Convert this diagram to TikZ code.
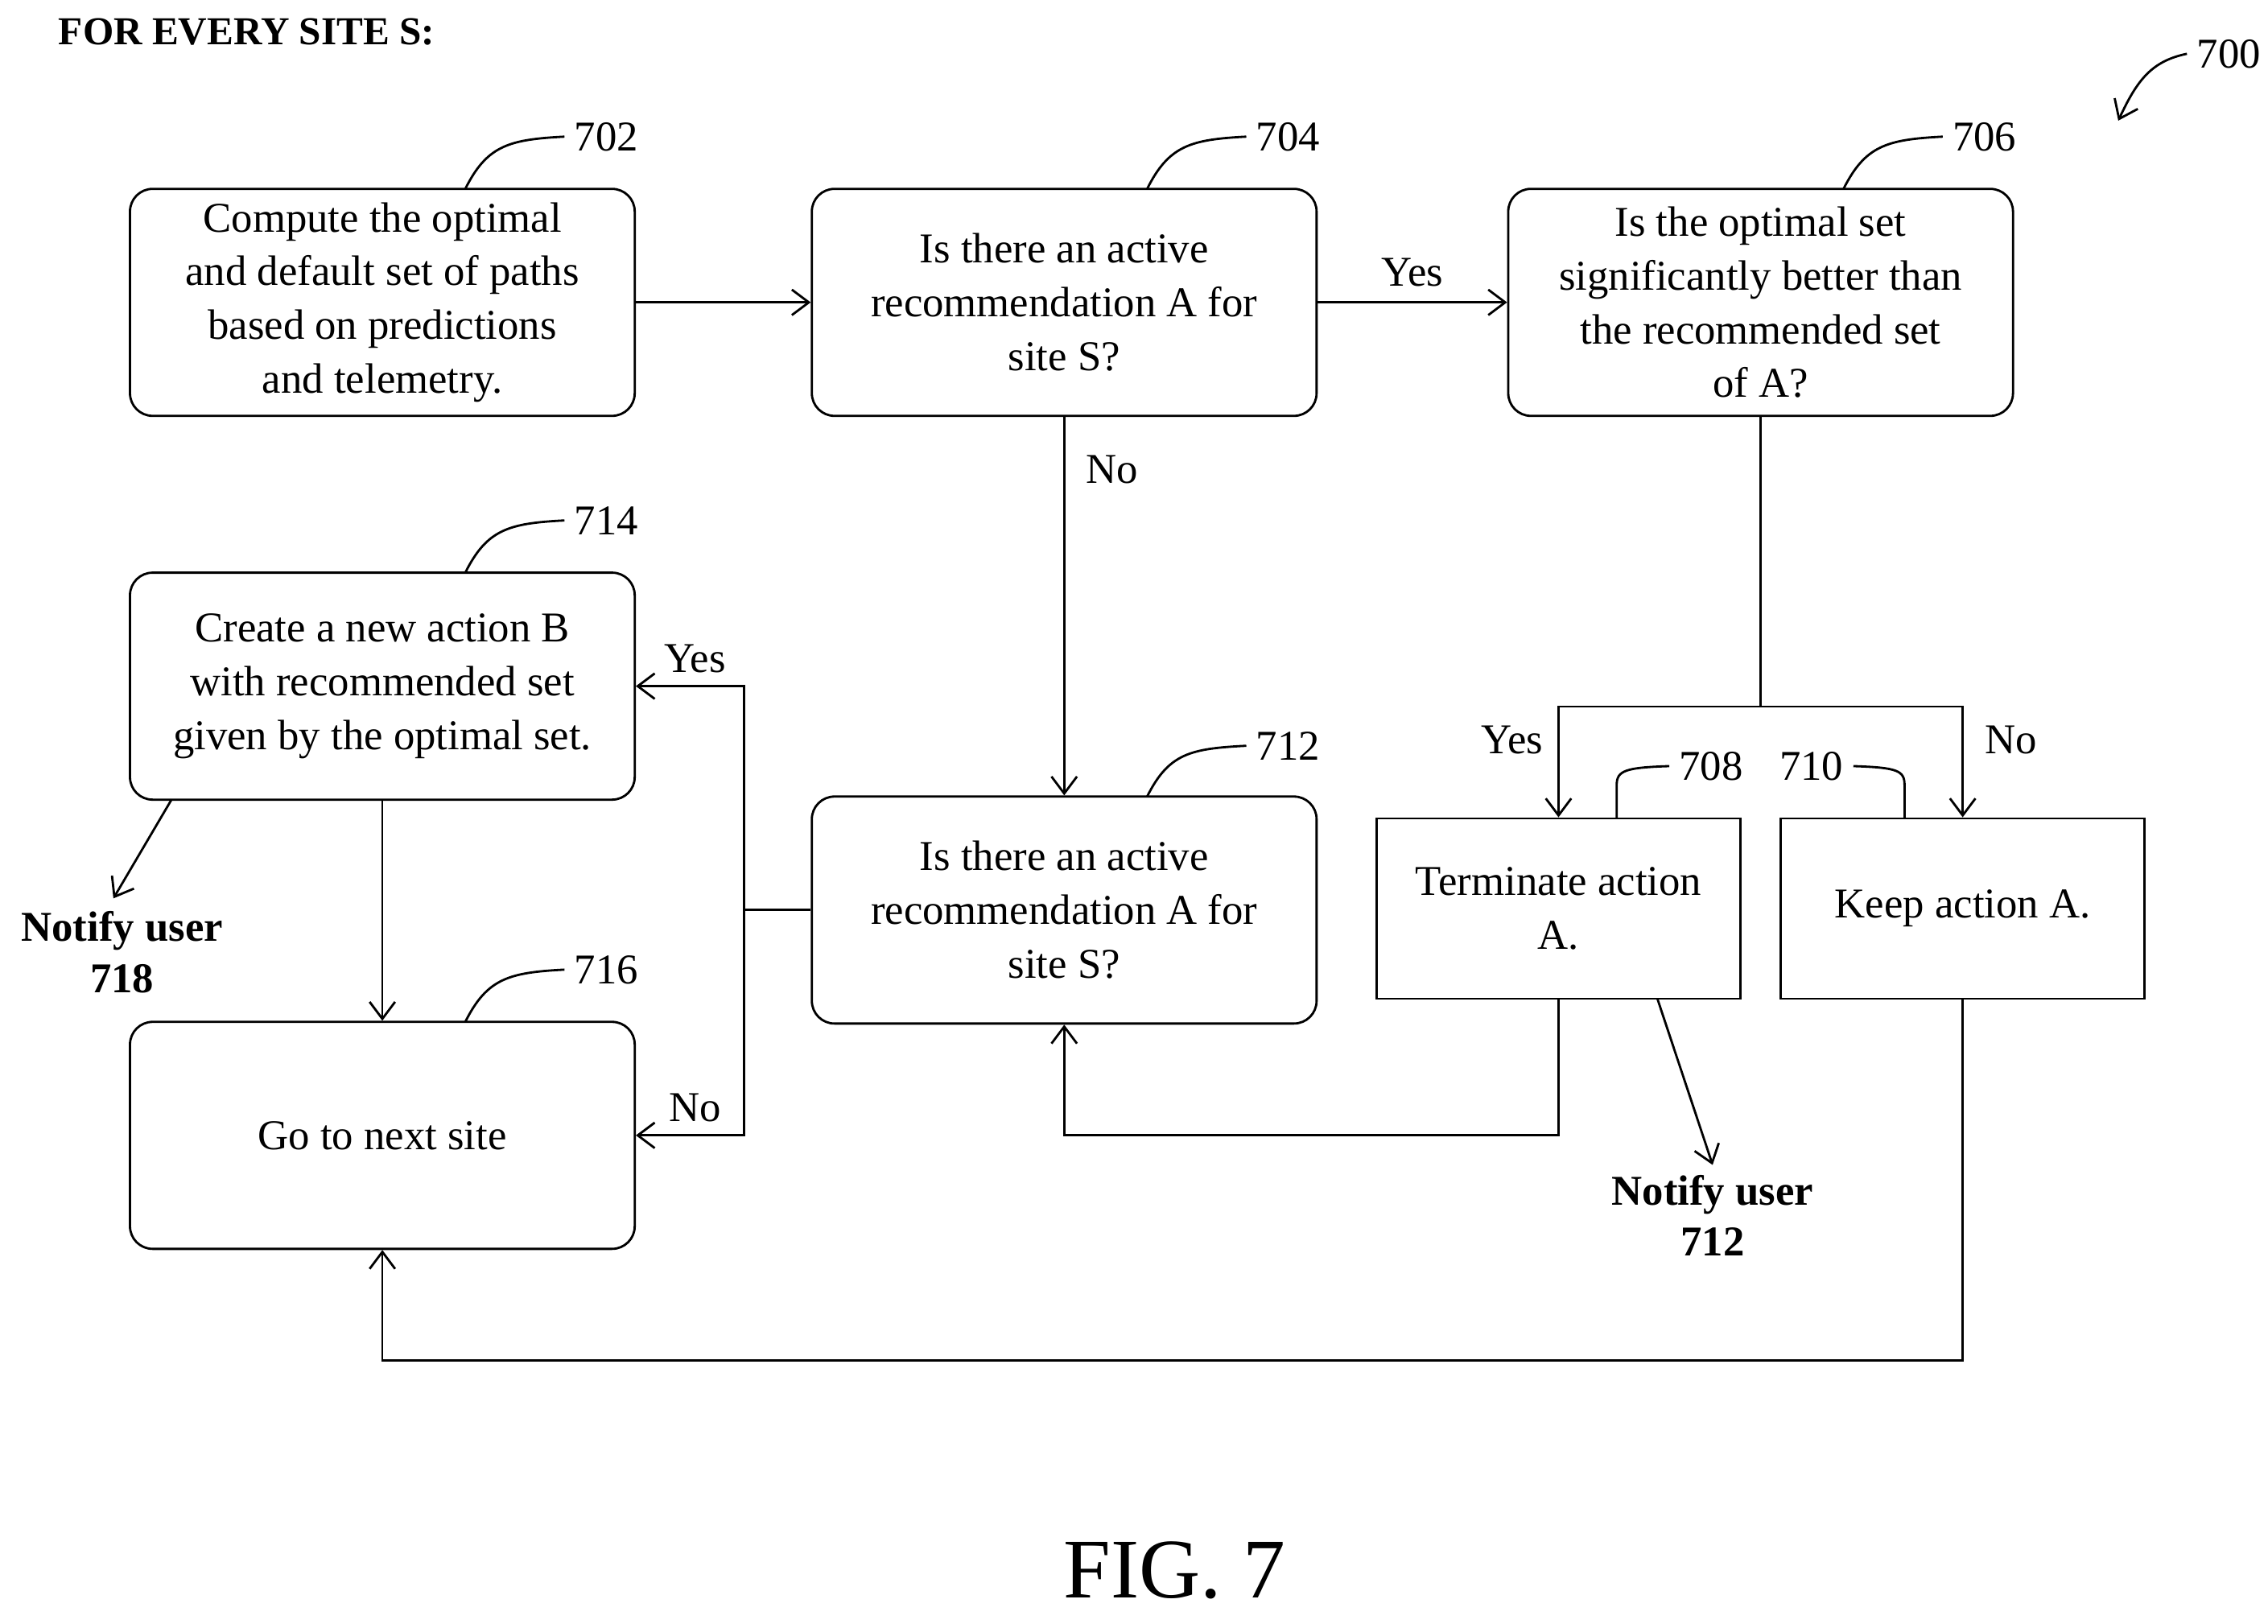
\documentclass[tikz,border=0pt]{standalone}
\usepackage{fontspec}
\setmainfont{Liberation Serif}
\usetikzlibrary{arrows.meta}
\begin{document}
\begin{tikzpicture}[x=0.1806mm,y=-0.1806mm,
  box/.style={draw,thick,rounded corners=8pt,minimum width=62.7mm,minimum height=28.2mm,align=center,font=\fontsize{15}{19}\selectfont},
  sqbox/.style={draw,thick,minimum width=45.2mm,minimum height=22.4mm,align=center,font=\fontsize{15}{19}\selectfont},
  lbl/.style={font=\fontsize{15}{18}\selectfont},
  flow/.style={thick,-{Straight Barb[length=6pt,width=9pt]}},
  lead/.style={thick}]
\useasboundingbox (0,0) rectangle (1560,1117);
\node[anchor=west,inner sep=0pt,font=\bfseries\fontsize{14}{16}\selectfont] (head) at (40,22) {FOR EVERY SITE S:};
% boxes
\node[box] (b702) at (263,208) {Compute the optimal\\and default set of paths\\based on predictions\\and telemetry.};
\node[box] (b704) at (732,208) {Is there an active\\recommendation A for\\site S?};
\node[box] (b706) at (1211,208) {Is the optimal set\\significantly better than\\the recommended set\\of A?};
\node[box] (b714) at (263,472) {Create a new action B\\with recommended set\\given by the optimal set.};
\node[box] (b712) at (732,626) {Is there an active\\recommendation A for\\site S?};
\node[box] (b716) at (263,781) {Go to next site};
\node[sqbox] (b708) at (1072,625) {Terminate action\\A.};
\node[sqbox] (b710) at (1350,625) {Keep action A.};
% reference numbers
\node[lbl] (n702) at (417,94) {702};
\node[lbl] (n704) at (886,94) {704};
\node[lbl] (n706) at (1365,94) {706};
\node[lbl] (n714) at (417,358) {714};
\node[lbl] (n712) at (886,513) {712};
\node[lbl] (n716) at (417,667) {716};
\node[lbl] (n708) at (1177,527) {708};
\node[lbl] (n710) at (1246,527) {710};
\node[lbl] (n700) at (1533,37) {700};
\draw[lead] (320,130) .. controls (335,100) and (350,96) .. (n702.west);
\draw[lead] (789,130) .. controls (804,100) and (819,96) .. (n704.west);
\draw[lead] (1268,130) .. controls (1283,100) and (1298,96) .. (n706.west);
\draw[lead] (320,394) .. controls (335,364) and (350,360) .. (n714.west);
\draw[lead] (789,548) .. controls (804,518) and (819,515) .. (n712.west);
\draw[lead] (320,703) .. controls (335,673) and (350,669) .. (n716.west);
\draw[lead] (1112,563) -- (1112,540) .. controls (1112,530) and (1118,528) .. (n708.west);
\draw[lead] (n710.east) .. controls (1305,528) and (1310,530) .. (1310,540) -- (1310,563);
\draw[flow] (n700.west) .. controls (1480,42) and (1470,55) .. (1457,83);
% flow
\draw[flow] (b702.east) -- (b704.west);
\draw[flow] (b704.east) -- node[lbl,above=2pt] (yes1) {Yes} (b706.west);
\draw[flow] (b704.south) -- (b712.north);
\node[lbl] (no1) at (765,323) {No};
\coordinate (split) at (1211,486);
\draw[thick] (b706.south) -- (split);
\draw[flow] (split) -| (b708.north);
\draw[flow] (split) -| (b710.north);
\node[lbl] (yes2) at (1040,509) {Yes};
\node[lbl] (no2) at (1383,509) {No};
\coordinate (jn) at (512,626);
\draw[thick] (b712.west) -- (jn);
\draw[flow] (jn) |- (b714.east);
\draw[flow] (jn) |- (b716.east);
\node[lbl] (yes3) at (478,453) {Yes};
\node[lbl] (no3) at (478,762) {No};
\draw[flow] (b714.south) -- (b716.north);
\draw[flow] (b708.south) |- (732,781) -- (b712.south);
\draw[flow] (b710.south) |- (263,936) -- (b716.south);
% notifications
\node[lbl,font=\bfseries\fontsize{15}{18}\selectfont,align=center] (u712) at (1178,836) {Notify user\\712};
\node[lbl,font=\bfseries\fontsize{15}{18}\selectfont,align=center] (u718) at (84,655) {Notify user\\718};
\draw[flow] (1140,687) -- (u712.north);
\draw[flow] (118,550) -- (78,618);
\node[font=\fontsize{30}{34}\selectfont] (fig) at (808,1080) {FIG. 7};
\end{tikzpicture}
\end{document}
